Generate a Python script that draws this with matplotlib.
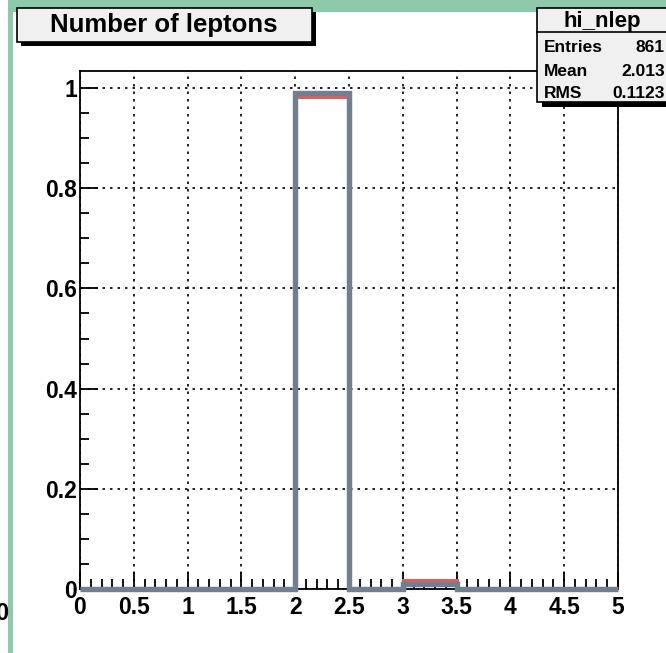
import numpy as np
import matplotlib
matplotlib.use("Agg")
import matplotlib.pyplot as plt
from matplotlib.patches import Rectangle
from matplotlib.ticker import MultipleLocator

plt.rcParams['font.family'] = ['Liberation Sans', 'DejaVu Sans']
plt.rcParams['font.weight'] = 'bold'

# histogram data (normalised), bins of 0.5 from 0 to 5
bin_edges = [0.0, 0.5, 1.0, 1.5, 2.0, 2.5, 3.0, 3.5, 4.0, 4.5, 5.0]
nlep_red = [0, 0, 0, 0, 0.982, 0, 0.018, 0, 0, 0]
nlep_gray = [0, 0, 0, 0, 0.991, 0, 0.009, 0, 0, 0]

title = "Number of leptons"
stat_name = "hi_nlep"
stat_labels = ["Entries", "Mean", "RMS"]
stat_values = ["861", "2.013", "0.1123"]

W, H = 666, 653
fig = plt.figure(figsize=(W / 100, H / 100), dpi=100)
fig.patch.set_facecolor('white')


def fx(x):
    return x / W


def fy(y):
    return 1 - y / H


# pixel-based helper for boxes on the figure
def box(x0, y0, x1, y1, **kw):
    r = Rectangle((fx(x0), fy(y1)), fx(x1) - fx(x0), fy(y0) - fy(y1),
                  transform=fig.transFigure, **kw)
    fig.add_artist(r)
    return r


# green canvas frame (top and left)
green = '#8dc9aa'
box(8, 0, W + 5, 12, facecolor=green, edgecolor='none', zorder=0)
box(8, 0, 13, H + 5, facecolor=green, edgecolor='none', zorder=0)

ax = fig.add_axes([fx(80), fy(589), fx(618) - fx(80), fy(71) - fy(589)])
ax.set_xlim(0, 5)
ax.set_ylim(0, 1.034)

ax.stairs(nlep_red, bin_edges, color='#de5f5a', lw=2.2, zorder=3, baseline=None)
ax.stairs(nlep_gray, bin_edges, color='#708090', lw=3.9, zorder=4, clip_on=False)

ax.xaxis.set_major_locator(MultipleLocator(0.5))
ax.xaxis.set_minor_locator(MultipleLocator(0.1))
ax.yaxis.set_major_locator(MultipleLocator(0.2))
ax.yaxis.set_minor_locator(MultipleLocator(0.05))
ax.xaxis.set_major_formatter(plt.FuncFormatter(lambda v, p: f"{v:g}"))
ax.yaxis.set_major_formatter(plt.FuncFormatter(lambda v, p: f"{v:g}"))

ax.tick_params(axis='both', which='both', direction='in', top=False, right=False,
               labelsize=16.5, width=1.3, colors='black')
ax.tick_params(axis='x', which='major', length=12, pad=5)
ax.tick_params(axis='x', which='minor', length=7)
ax.tick_params(axis='y', which='major', length=13, pad=2)
ax.tick_params(axis='y', which='minor', length=6.5)
for t in ax.xaxis.get_ticklines(minor=True) + ax.xaxis.get_ticklines():
    t.set_zorder(5)

ax.grid(True, which='major', color='black', linestyle=(0, (1.5, 3)), lw=1.2)
ax.set_axisbelow(True)
for s in ax.spines.values():
    s.set_linewidth(1.3)

# title box with shadow
box(21, 12, 316, 46, facecolor='black', edgecolor='none', zorder=5)
box(17, 8, 312, 42, facecolor='#f0f0f0', edgecolor='black', lw=1.2, zorder=6)
fig.text(fx(164), fy(25), title, ha='center', va='center', fontsize=18.5,
         fontweight='bold', zorder=7)

# stats box with shadow
box(542, 12, W + 10, 107, facecolor='black', edgecolor='none', zorder=5)
box(537, 8, W + 10, 102, facecolor='#f0f0f0', edgecolor='black', lw=1.2, zorder=6)
fig.add_artist(plt.Line2D([fx(537), 1], [fy(32), fy(32)], transform=fig.transFigure,
                          color='black', lw=1.2, zorder=7))
fig.text(fx(602), fy(21), stat_name, ha='center', va='center', fontsize=16, zorder=7)
row_y = [48, 72, 94]
for lab, val, yy in zip(stat_labels, stat_values, row_y):
    fig.text(fx(544), fy(yy), lab, ha='left', va='center', fontsize=12.5, zorder=7)
    fig.text(fx(665), fy(yy), val, ha='right', va='center', fontsize=12.5, zorder=7)

# label clipped at the far left edge, as in the original canvas
fig.text(fx(8), fy(614), "0", ha='right', va='center', fontsize=17)

fig.savefig("out.png", dpi=100)
